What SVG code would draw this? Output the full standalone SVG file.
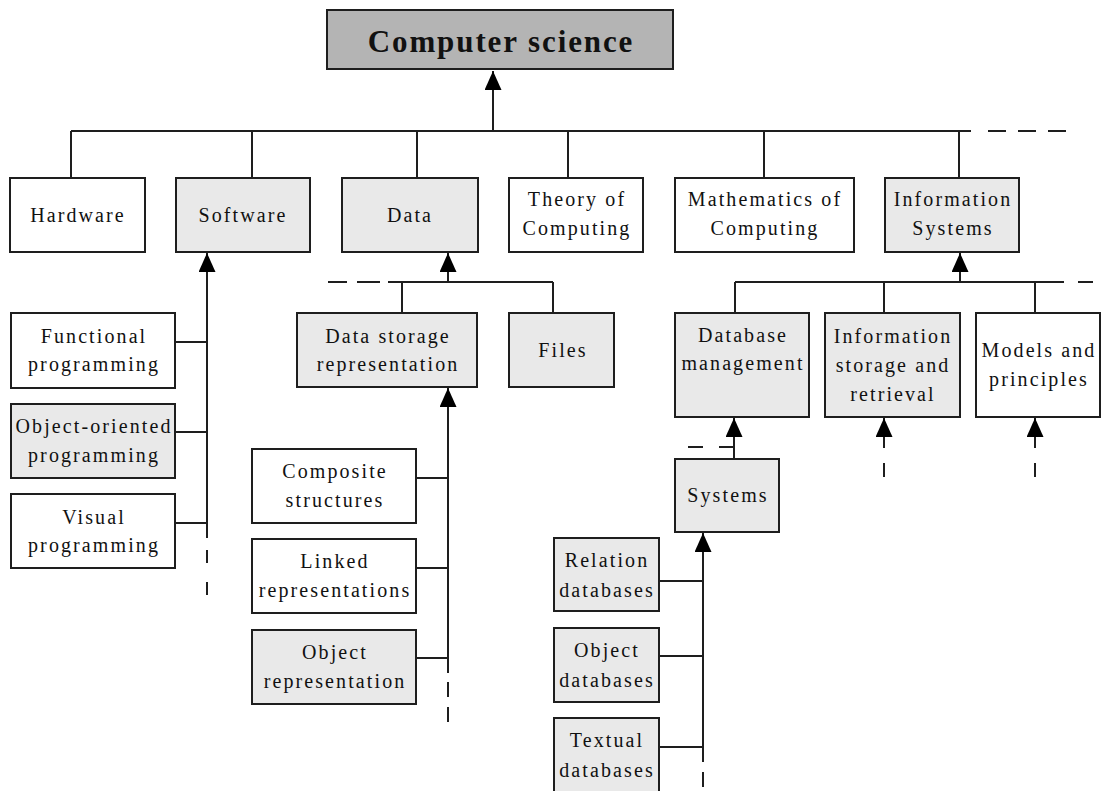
<svg xmlns="http://www.w3.org/2000/svg" width="1101" height="791" viewBox="0 0 1101 791">
  <style>
    .box { stroke: #1e1e1e; stroke-width: 2; }
    .w { fill: #ffffff; }
    .g { fill: #e9e9e9; }
    .root { fill: #b4b4b4; }
    .t { font-family: "Liberation Serif", "Times New Roman", serif; font-size: 20px; letter-spacing: 2.1px; fill: #111; text-anchor: middle; }
    .title { font-family: "Liberation Serif", "Times New Roman", serif; font-size: 31px; font-weight: bold; letter-spacing: 1.9px; fill: #111; text-anchor: middle; }
    .ln { stroke: #1e1e1e; stroke-width: 2; fill: none; }
    .dash { stroke: #1e1e1e; stroke-width: 2; fill: none; }
    .arr { stroke: #1e1e1e; stroke-width: 2; fill: none; marker-end: url(#head); }
  </style>
  <defs>
    <marker id="head" viewBox="0 0 19 17" refX="19" refY="8.5" markerWidth="19" markerHeight="17" markerUnits="userSpaceOnUse" orient="auto">
      <path d="M0,0 L19,8.5 L0,17 z" fill="#000"/>
    </marker>
  </defs>
  <rect width="1101" height="791" fill="#ffffff"/>

  <!-- connectors -->
  <g id="connectors">
    <!-- root level -->
    <line class="arr" x1="493" y1="131" x2="493" y2="71"/>
    <line class="ln" x1="71" y1="131" x2="971" y2="131"/>
    <line class="dash" x1="988" y1="131" x2="1066" y2="131" stroke-dasharray="18 12"/>
    <line class="ln" x1="71" y1="131" x2="71" y2="178"/>
    <line class="ln" x1="252" y1="131" x2="252" y2="178"/>
    <line class="ln" x1="417" y1="131" x2="417" y2="178"/>
    <line class="ln" x1="568" y1="131" x2="568" y2="178"/>
    <line class="ln" x1="764" y1="131" x2="764" y2="178"/>
    <line class="ln" x1="959" y1="131" x2="959" y2="178"/>

    <!-- software branch -->
    <line class="arr" x1="207" y1="538" x2="207" y2="253"/>
    <line class="dash" x1="207" y1="550" x2="207" y2="596" stroke-dasharray="13 19"/>
    <line class="ln" x1="175" y1="342" x2="207" y2="342"/>
    <line class="ln" x1="175" y1="432" x2="207" y2="432"/>
    <line class="ln" x1="175" y1="523" x2="207" y2="523"/>

    <!-- data branch -->
    <line class="arr" x1="448" y1="282" x2="448" y2="253"/>
    <line class="ln" x1="388" y1="282" x2="553" y2="282"/>
    <line class="dash" x1="328" y1="282" x2="380" y2="282" stroke-dasharray="19 10 23"/>
    <line class="ln" x1="402" y1="282" x2="402" y2="313"/>
    <line class="ln" x1="553" y1="282" x2="553" y2="313"/>

    <!-- data storage branch -->
    <line class="arr" x1="448" y1="673" x2="448" y2="388"/>
    <line class="dash" x1="448" y1="682" x2="448" y2="722" stroke-dasharray="15 10"/>
    <line class="ln" x1="416" y1="478" x2="448" y2="478"/>
    <line class="ln" x1="416" y1="568" x2="448" y2="568"/>
    <line class="ln" x1="416" y1="658" x2="448" y2="658"/>

    <!-- information systems branch -->
    <line class="arr" x1="960" y1="282" x2="960" y2="253"/>
    <line class="ln" x1="735" y1="282" x2="1064" y2="282"/>
    <line class="dash" x1="1078" y1="282" x2="1093" y2="282"/>
    <line class="ln" x1="735" y1="282" x2="735" y2="313"/>
    <line class="ln" x1="884" y1="282" x2="884" y2="313"/>
    <line class="ln" x1="1035" y1="282" x2="1035" y2="313"/>

    <!-- database management / systems -->
    <line class="arr" x1="734" y1="459" x2="734" y2="418"/>
    <line class="dash" x1="688" y1="447" x2="734" y2="447" stroke-dasharray="15 16"/>
    <line class="arr" x1="884" y1="448" x2="884" y2="418"/>
    <line class="dash" x1="884" y1="463" x2="884" y2="477"/>
    <line class="arr" x1="1035" y1="448" x2="1035" y2="418"/>
    <line class="dash" x1="1035" y1="463" x2="1035" y2="477"/>

    <line class="arr" x1="703" y1="762" x2="703" y2="533"/>
    <line class="dash" x1="703" y1="772" x2="703" y2="787"/>
    <line class="ln" x1="659" y1="581" x2="703" y2="581"/>
    <line class="ln" x1="659" y1="656" x2="703" y2="656"/>
    <line class="ln" x1="659" y1="747" x2="703" y2="747"/>
  </g>

  <!-- root -->
  <g id="computer-science">
    <rect class="box root" x="327" y="10" width="346" height="59"/>
    <text class="title" x="501" y="52">Computer science</text>
  </g>

  <!-- first level -->
  <g id="hardware">
    <rect class="box w" x="10" y="178" width="135" height="74"/>
    <text class="t" x="78" y="222">Hardware</text>
  </g>
  <g id="software">
    <rect class="box g" x="176" y="178" width="134" height="74"/>
    <text class="t" x="243" y="222">Software</text>
  </g>
  <g id="data">
    <rect class="box g" x="342" y="178" width="136" height="74"/>
    <text class="t" x="410" y="222">Data</text>
  </g>
  <g id="theory-of-computing">
    <rect class="box w" x="509" y="178" width="134" height="74"/>
    <text class="t" x="577" y="206">Theory of</text>
    <text class="t" x="577" y="235">Computing</text>
  </g>
  <g id="mathematics-of-computing">
    <rect class="box w" x="675" y="178" width="179" height="74"/>
    <text class="t" x="765" y="206">Mathematics of</text>
    <text class="t" x="765" y="235">Computing</text>
  </g>
  <g id="information-systems">
    <rect class="box g" x="885" y="178" width="134" height="74"/>
    <text class="t" x="953" y="206">Information</text>
    <text class="t" x="953" y="235">Systems</text>
  </g>

  <!-- software children -->
  <g id="functional-programming">
    <rect class="box w" x="11" y="313" width="164" height="75"/>
    <text class="t" x="94" y="343">Functional</text>
    <text class="t" x="94" y="371">programming</text>
  </g>
  <g id="object-oriented-programming">
    <rect class="box g" x="11" y="404" width="164" height="74"/>
    <text class="t" x="94" y="433">Object-oriented</text>
    <text class="t" x="94" y="462">programming</text>
  </g>
  <g id="visual-programming">
    <rect class="box w" x="11" y="494" width="164" height="74"/>
    <text class="t" x="94" y="524">Visual</text>
    <text class="t" x="94" y="552">programming</text>
  </g>

  <!-- data children -->
  <g id="data-storage-representation">
    <rect class="box g" x="297" y="313" width="180" height="74"/>
    <text class="t" x="388" y="343">Data storage</text>
    <text class="t" x="388" y="371">representation</text>
  </g>
  <g id="files">
    <rect class="box g" x="509" y="313" width="105" height="74"/>
    <text class="t" x="563" y="357">Files</text>
  </g>

  <!-- data storage children -->
  <g id="composite-structures">
    <rect class="box w" x="252" y="449" width="164" height="74"/>
    <text class="t" x="335" y="478">Composite</text>
    <text class="t" x="335" y="507">structures</text>
  </g>
  <g id="linked-representations">
    <rect class="box w" x="252" y="539" width="164" height="74"/>
    <text class="t" x="335" y="568">Linked</text>
    <text class="t" x="335" y="597">representations</text>
  </g>
  <g id="object-representation">
    <rect class="box g" x="252" y="630" width="164" height="74"/>
    <text class="t" x="335" y="659">Object</text>
    <text class="t" x="335" y="688">representation</text>
  </g>

  <!-- information systems children -->
  <g id="database-management">
    <rect class="box g" x="675" y="313" width="134" height="104"/>
    <text class="t" x="743" y="342">Database</text>
    <text class="t" x="743" y="370">management</text>
  </g>
  <g id="information-storage-and-retrieval">
    <rect class="box g" x="825" y="313" width="135" height="104"/>
    <text class="t" x="893" y="343">Information</text>
    <text class="t" x="893" y="372">storage and</text>
    <text class="t" x="893" y="401">retrieval</text>
  </g>
  <g id="models-and-principles">
    <rect class="box w" x="976" y="313" width="124" height="104"/>
    <text class="t" x="1039" y="357">Models and</text>
    <text class="t" x="1039" y="386">principles</text>
  </g>

  <!-- database management children -->
  <g id="systems">
    <rect class="box g" x="675" y="459" width="104" height="73"/>
    <text class="t" x="728" y="502">Systems</text>
  </g>
  <g id="relation-databases">
    <rect class="box g" x="554" y="538" width="105" height="73"/>
    <text class="t" x="607" y="567">Relation</text>
    <text class="t" x="607" y="597">databases</text>
  </g>
  <g id="object-databases">
    <rect class="box g" x="554" y="628" width="105" height="74"/>
    <text class="t" x="607" y="657">Object</text>
    <text class="t" x="607" y="687">databases</text>
  </g>
  <g id="textual-databases">
    <rect class="box g" x="554" y="718" width="105" height="80"/>
    <text class="t" x="607" y="747">Textual</text>
    <text class="t" x="607" y="777">databases</text>
  </g>
</svg>
